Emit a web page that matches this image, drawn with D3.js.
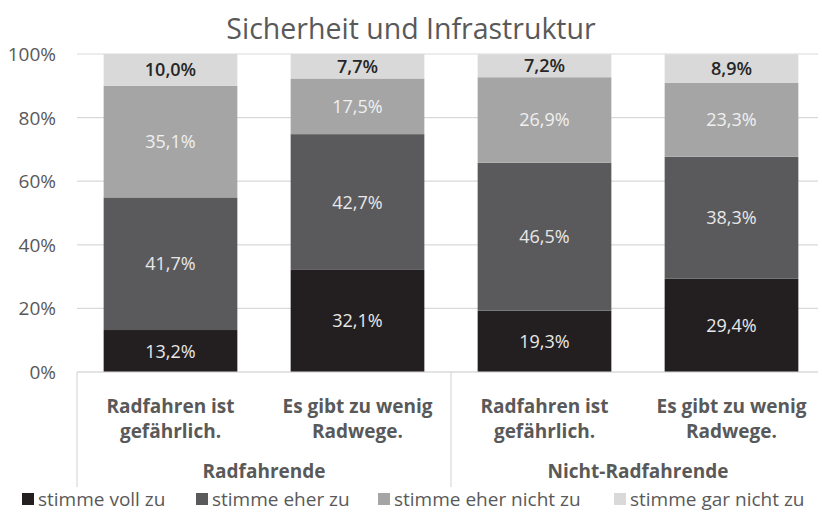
<!DOCTYPE html>
<html>
<head>
<meta charset="utf-8">
<script src="https://cdn.jsdelivr.net/npm/d3@7"></script>
<style>
  body { margin: 0; background: #fff; }
  text { font-family: "Open Sans", sans-serif; }
</style>
</head>
<body>
<script>
const title = "Sicherheit und Infrastruktur"
const categories = [
  ["Radfahren ist", "gefährlich."],
  ["Es gibt zu wenig", "Radwege."],
  ["Radfahren ist", "gefährlich."],
  ["Es gibt zu wenig", "Radwege."]
]
const groups = ["Radfahrende", "Nicht-Radfahrende"]
const series = ["stimme voll zu", "stimme eher zu", "stimme eher nicht zu", "stimme gar nicht zu"]
const voll = [13.2, 32.1, 19.3, 29.4]
const eher = [41.7, 42.7, 46.5, 38.3]
const eherNicht = [35.1, 17.5, 26.9, 23.3]
const garNicht = [10.0, 7.7, 7.2, 8.9]
const yTicks = [0, 20, 40, 60, 80, 100]

const colors = ["#231f20", "#5a5a5c", "#a5a5a5", "#d9d9d9"]
const labelColors = ["#e8e8e8", "#e8e8e8", "#f0f0f0", "#262626"]

const width = 822, height = 522
const plot = { left: 77, right: 825, top: 54, bottom: 372 }

const svg = d3.select("body")
  .append("svg")
  .attr("width", width)
  .attr("height", height);

const x = d3.scaleBand()
  .domain(d3.range(categories.length))
  .range([plot.left, plot.right])
  .paddingInner(0.285)
  .paddingOuter(0.1425);

const y = d3.scaleLinear().domain([0, 100]).range([plot.bottom, plot.top]);

// title
svg.append("text")
  .attr("x", width / 2)
  .attr("y", 39)
  .attr("text-anchor", "middle")
  .attr("font-size", "28.5px")
  .attr("fill", "#595959")
  .text(title);

// gridlines
svg.selectAll("line.grid")
  .data(yTicks)
  .enter()
  .append("line")
  .attr("class", "grid")
  .attr("x1", plot.left)
  .attr("x2", width - 4)
  .attr("y1", d => y(d))
  .attr("y2", d => y(d))
  .attr("stroke", "#d9d9d9")
  .attr("stroke-width", 1.2);

// y tick labels
svg.selectAll("text.ytick")
  .data(yTicks)
  .enter()
  .append("text")
  .attr("class", "ytick")
  .attr("x", 56)
  .attr("y", d => y(d) + 7)
  .attr("text-anchor", "end")
  .attr("font-size", "19px")
  .attr("fill", "#595959")
  .text(d => d + "%");

// stacked data
const rows = categories.map((c, i) => ({
  i: i,
  "stimme voll zu": voll[i],
  "stimme eher zu": eher[i],
  "stimme eher nicht zu": eherNicht[i],
  "stimme gar nicht zu": garNicht[i]
}));
const stacked = d3.stack().keys(series)(rows);

const fmt = v => v.toFixed(1).replace(".", ",") + "%";

const layers = svg.selectAll("g.layer")
  .data(stacked)
  .enter()
  .append("g")
  .attr("class", "layer");

layers.each(function(layer, li) {
  const g = d3.select(this);
  g.selectAll("rect")
    .data(layer)
    .enter()
    .append("rect")
    .attr("x", d => x(d.data.i))
    .attr("width", x.bandwidth())
    .attr("y", d => y(d[1]))
    .attr("height", d => y(d[0]) - y(d[1]))
    .attr("fill", colors[li]);
  g.selectAll("text")
    .data(layer)
    .enter()
    .append("text")
    .attr("x", d => x(d.data.i) + x.bandwidth() / 2)
    .attr("y", d => (y(d[0]) + y(d[1])) / 2 + 6.5)
    .attr("text-anchor", "middle")
    .attr("font-size", "18px")
    .attr("font-weight", li === 3 ? "600" : "400")
    .attr("fill", labelColors[li])
    .text(d => fmt(d[1] - d[0]));
});

// x axis line
svg.append("line")
  .attr("x1", plot.left)
  .attr("x2", width - 4)
  .attr("y1", plot.bottom)
  .attr("y2", plot.bottom)
  .attr("stroke", "#d9d9d9")
  .attr("stroke-width", 1.2);

// group separators
const step = x.step();
const sepX = [plot.left, plot.left + 2 * step];
svg.selectAll("line.sep")
  .data(sepX)
  .enter()
  .append("line")
  .attr("class", "sep")
  .attr("x1", d => d)
  .attr("x2", d => d)
  .attr("y1", plot.bottom)
  .attr("y2", 487)
  .attr("stroke", "#d9d9d9")
  .attr("stroke-width", 1.2);

// category labels
const cat = svg.selectAll("text.cat")
  .data(categories)
  .enter()
  .append("text")
  .attr("class", "cat")
  .attr("text-anchor", "middle")
  .attr("font-size", "19px")
  .attr("font-weight", "bold")
  .attr("fill", "#595959");
cat.append("tspan")
  .attr("x", (d, i) => x(i) + x.bandwidth() / 2)
  .attr("y", 413)
  .text(d => d[0]);
cat.append("tspan")
  .attr("x", (d, i) => x(i) + x.bandwidth() / 2)
  .attr("y", 438)
  .text(d => d[1]);

// group labels
svg.selectAll("text.group")
  .data(groups)
  .enter()
  .append("text")
  .attr("class", "group")
  .attr("x", (d, i) => plot.left + step * (2 * i + 1))
  .attr("y", 478)
  .attr("text-anchor", "middle")
  .attr("font-size", "19px")
  .attr("font-weight", "bold")
  .attr("fill", "#595959")
  .text(d => d);

// legend
const legendX = [22, 196, 378, 614];
const legend = svg.selectAll("g.legend")
  .data(series)
  .enter()
  .append("g")
  .attr("class", "legend")
  .attr("transform", (d, i) => `translate(${legendX[i]}, 506)`);
legend.append("rect")
  .attr("x", 0)
  .attr("y", -13)
  .attr("width", 12)
  .attr("height", 12)
  .attr("fill", (d, i) => colors[i]);
legend.append("text")
  .attr("x", 16)
  .attr("y", 0)
  .attr("font-size", "19px")
  .attr("fill", "#595959")
  .text(d => d);
</script>
</body>
</html>
